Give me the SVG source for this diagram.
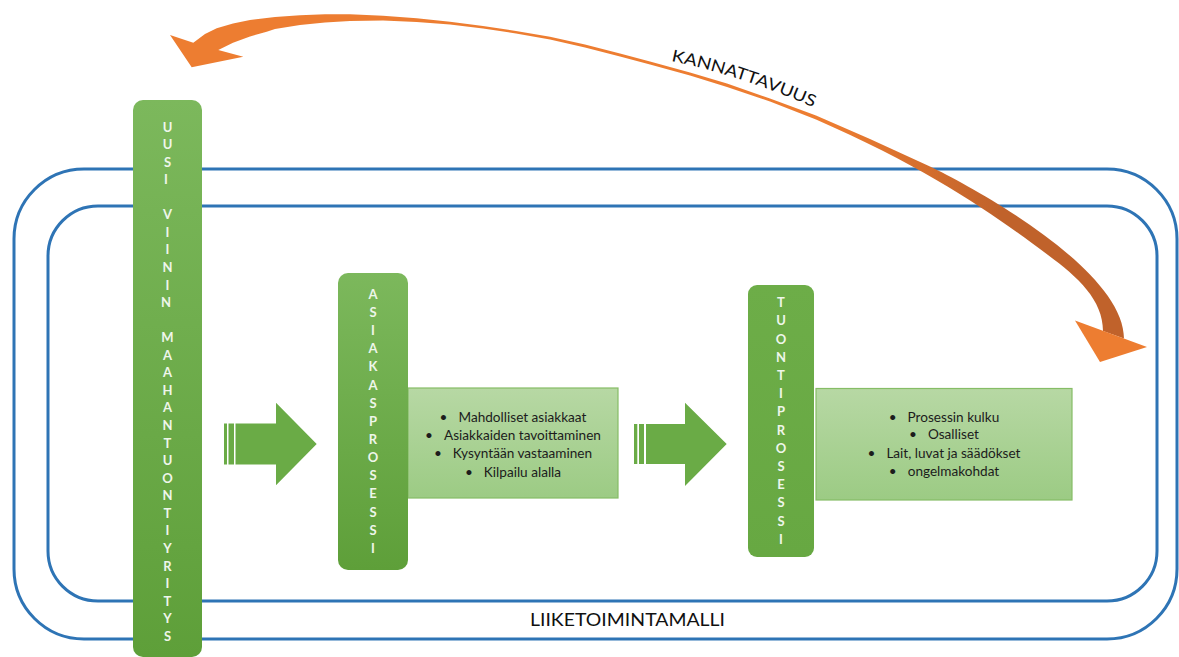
<svg xmlns="http://www.w3.org/2000/svg" width="1179" height="657" viewBox="0 0 1179 657">
<style>
.frame{fill:none;stroke:#2e74b5;stroke-width:3}
.bar-letters{font-family:Lato,"Open Sans","Liberation Sans",sans-serif;font-weight:bold;font-size:13px;fill:#eef6ea;text-anchor:middle}
.box{stroke:#86bd66;stroke-width:1.2;fill:url(#boxGrad)}
.box-text{font-family:Lato,"Open Sans","Liberation Sans",sans-serif;font-size:13.6px;fill:#1c1c1c;text-anchor:middle}
.garrow{fill:#6aab46}
.label{font-family:Lato,"Open Sans","Liberation Sans",sans-serif;fill:#111}
</style>
<defs>
<linearGradient id="barGrad" x1="0" y1="0" x2="0" y2="1">
<stop offset="0" stop-color="#7cb85c"/>
<stop offset="1" stop-color="#5e9f39"/>
</linearGradient>
<linearGradient id="barGrad3" x1="0" y1="0" x2="0" y2="1">
<stop offset="0" stop-color="#6dad48"/>
<stop offset="1" stop-color="#67a842"/>
</linearGradient>
<linearGradient id="boxGrad" x1="0" y1="0" x2="0" y2="1">
<stop offset="0" stop-color="#b7d8a4"/>
<stop offset="1" stop-color="#9ccb84"/>
</linearGradient>
<linearGradient id="orangeGrad" gradientUnits="userSpaceOnUse" x1="830" y1="0" x2="1000" y2="0">
<stop offset="0" stop-color="#ed7d31"/>
<stop offset="1" stop-color="#c0622b"/>
</linearGradient>
<path id="kanPath" d="M671,61 Q740,75 815,108"/>
</defs>

<g id="liiketoimintamalli">
<rect class="frame" x="14" y="169" width="1163" height="470" rx="70" ry="70"/>
<rect class="frame" x="48" y="206" width="1109" height="395" rx="50" ry="50"/>
<text class="label" x="627.5" y="626" font-size="18" text-anchor="middle" textLength="195" lengthAdjust="spacingAndGlyphs">LIIKETOIMINTAMALLI</text>
</g>

<g id="kannattavuus">
<path fill="url(#orangeGrad)" d="M193.3,42.7 L205,34 L216.7,28.3 L233,23.5 L250,20 L275,17 L300,15.2 L325,14.3 L350,14.3 L383,15.8 L416.7,18.3 L450,21.8 L483,26 L516,31 L550,36.7 L585,44.5 L620,53.5 L650,61.5 L690,72.5 L727,83.5 L770,98.5 L816,115.5 L870,139 L930,166.5 C975,188 1124,270 1124,338.6 L1103,331 C1103,300 1078,277 1048,255 C998,218 936,172 816,119.5 L770,101.5 L727,87 L690,75.5 L650,64.5 L620,56.5 L585,47.5 L550,39.5 L516,33.5 L483,28.5 L450,24.5 L416.7,22 L383,20.5 L350,21 L325,22.5 L300,25 L275,29 L266.7,31.7 L250,36.5 L233,42.7 L218.3,50 L243.3,56.7 L191.7,67.3 L170,35 Z"/>
<polygon fill="#ed7d31" points="1075,320.5 1147,347 1100,362"/>
<text class="label" font-size="16.5"><textPath href="#kanPath" textLength="150" lengthAdjust="spacingAndGlyphs">KANNATTAVUUS</textPath></text>
</g>

<g id="uusi-viinin-maahantuontiyritys">
<rect x="133" y="100" width="69" height="557" rx="10" ry="10" fill="url(#barGrad)"/>
<text class="bar-letters">
<tspan x="167.5" y="131.5">U</tspan><tspan x="167.5" y="149.06">U</tspan><tspan x="167.5" y="166.62">S</tspan><tspan x="167.5" y="184.18">I</tspan>
<tspan x="167.5" y="219.3">V</tspan><tspan x="167.5" y="236.86">I</tspan><tspan x="167.5" y="254.42">I</tspan><tspan x="167.5" y="271.98">N</tspan><tspan x="167.5" y="289.54">I</tspan><tspan x="167.5" y="307.1">N</tspan>
<tspan x="167.5" y="342.22">M</tspan><tspan x="167.5" y="359.78">A</tspan><tspan x="167.5" y="377.34">A</tspan><tspan x="167.5" y="394.9">H</tspan><tspan x="167.5" y="412.46">A</tspan><tspan x="167.5" y="430.02">N</tspan><tspan x="167.5" y="447.58">T</tspan><tspan x="167.5" y="465.14">U</tspan><tspan x="167.5" y="482.7">O</tspan><tspan x="167.5" y="500.26">N</tspan><tspan x="167.5" y="517.82">T</tspan><tspan x="167.5" y="535.38">I</tspan><tspan x="167.5" y="552.94">Y</tspan><tspan x="167.5" y="570.5">R</tspan><tspan x="167.5" y="588.06">I</tspan><tspan x="167.5" y="605.62">T</tspan><tspan x="167.5" y="623.18">Y</tspan><tspan x="167.5" y="640.74">S</tspan>
</text>
</g>

<g id="arrow1">
<rect class="garrow" x="224" y="423.5" width="3" height="41"/>
<rect class="garrow" x="228.5" y="423.5" width="5.5" height="41"/>
<polygon class="garrow" points="235.5,423.5 276,423.5 276,402.7 316.7,444 276,485.3 276,464.5 235.5,464.5"/>
</g>

<g id="asiakasprosessi">
<rect class="box" x="408" y="388" width="210" height="110"/>
<rect x="338" y="273" width="70" height="297" rx="10" ry="10" fill="url(#barGrad)"/>
<text class="bar-letters">
<tspan x="373" y="298.8">A</tspan><tspan x="373" y="316.9">S</tspan><tspan x="373" y="335.1">I</tspan><tspan x="373" y="353.2">A</tspan><tspan x="373" y="371.4">K</tspan><tspan x="373" y="389.5">A</tspan><tspan x="373" y="407.6">S</tspan><tspan x="373" y="425.8">P</tspan><tspan x="373" y="443.9">R</tspan><tspan x="373" y="462.1">O</tspan><tspan x="373" y="480.2">S</tspan><tspan x="373" y="498.3">E</tspan><tspan x="373" y="516.5">S</tspan><tspan x="373" y="534.6">S</tspan><tspan x="373" y="552.8">I</tspan>
</text>
<text class="box-text" x="513" y="421.5">•<tspan dx="11">Mahdolliset asiakkaat</tspan></text>
<text class="box-text" x="513" y="439.5">•<tspan dx="11">Asiakkaiden tavoittaminen</tspan></text>
<text class="box-text" x="513" y="458">•<tspan dx="11">Kysyntään vastaaminen</tspan></text>
<text class="box-text" x="513" y="476.5">•<tspan dx="11">Kilpailu alalla</tspan></text>
</g>

<g id="arrow2">
<rect class="garrow" x="634" y="424" width="3.3" height="40"/>
<rect class="garrow" x="639" y="424" width="5" height="40"/>
<polygon class="garrow" points="646,424 685,424 685,402.7 726.7,444 685,486 685,464 646,464"/>
</g>

<g id="tuontiprosessi">
<rect class="box" x="816" y="388.5" width="256" height="111.5"/>
<rect x="748" y="285" width="66" height="272" rx="9" ry="9" fill="url(#barGrad3)"/>
<text class="bar-letters">
<tspan x="781" y="307.2">T</tspan><tspan x="781" y="325.4">U</tspan><tspan x="781" y="343.6">O</tspan><tspan x="781" y="361.8">N</tspan><tspan x="781" y="380">T</tspan><tspan x="781" y="398.2">I</tspan><tspan x="781" y="416.4">P</tspan><tspan x="781" y="434.6">R</tspan><tspan x="781" y="452.8">O</tspan><tspan x="781" y="471">S</tspan><tspan x="781" y="489.2">E</tspan><tspan x="781" y="507.4">S</tspan><tspan x="781" y="525.6">S</tspan><tspan x="781" y="543.8">I</tspan>
</text>
<text class="box-text" x="944" y="421.5">•<tspan dx="11">Prosessin kulku</tspan></text>
<text class="box-text" x="944" y="439">•<tspan dx="11">Osalliset</tspan></text>
<text class="box-text" x="944" y="458">•<tspan dx="11">Lait, luvat ja säädökset</tspan></text>
<text class="box-text" x="944" y="475.5">•<tspan dx="11">ongelmakohdat</tspan></text>
</g>
</svg>
